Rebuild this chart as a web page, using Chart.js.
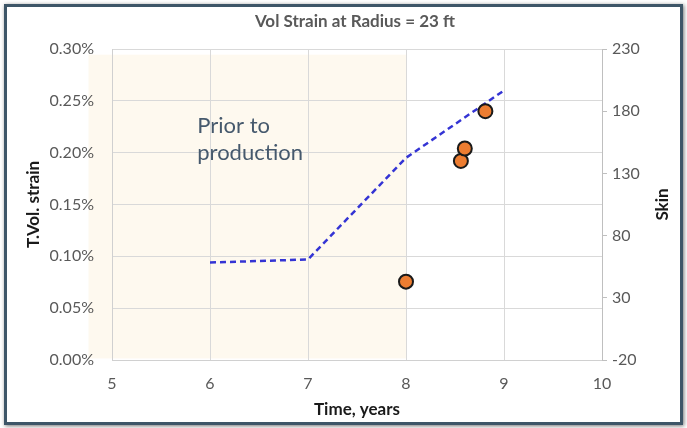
<!DOCTYPE html>
<html>
<head>
<meta charset="utf-8">
<script src="https://cdn.jsdelivr.net/npm/chart.js@4/dist/chart.umd.min.js"></script>
<style>
  body { margin: 0; background: #fff; }
  #frame {
    position: absolute; left: 4px; top: 4px;
    width: 673px; height: 415px;
    border: 3px solid #3e5668;
    box-shadow: 1px 1px 4px rgba(0,0,0,0.55);
    background: #fff;
  }
  canvas { display: block; }
</style>
</head>
<body>
<div id="frame"><canvas id="chart" width="673" height="415"></canvas></div>
<script>
'use strict';
// data
var lineYears = [6, 7, 8, 9];
var lineStrain = [0.094, 0.097, 0.195, 0.26]; // percent
var skinYears = [8.0, 8.56, 8.60, 8.81];
var skinValues = [43, 140, 150, 180];
var xTicks = [5, 6, 7, 8, 9, 10];
var strainTicks = [0, 0.05, 0.10, 0.15, 0.20, 0.25, 0.30];
var skinTicks = [-20, 30, 80, 130, 180, 230];
var shadeYears = [4.76, 8]; // "prior to production" band
var shadeStrain = [0.0015, 0.2945];

var FONT = 'Lato, "Open Sans", sans-serif';
var GRAY = '#595959';

function toPoints(xs, ys) {
  var out = [];
  for (var i = 0; i < xs.length; i++) {
    out.push({x: xs[i], y: ys[i]});
  }
  return out;
}

// band + free text + titles drawn by hand
var decor = {
  id: 'decor',
  beforeDraw: function(chart) {
    var c = chart.ctx;
    var xs = chart.scales.x, ys = chart.scales.y;
    var l = xs.getPixelForValue(shadeYears[0]);
    var r = xs.getPixelForValue(shadeYears[1]);
    var t = ys.getPixelForValue(shadeStrain[1]);
    var b = ys.getPixelForValue(shadeStrain[0]);
    c.save();
    c.fillStyle = '#fef9ef';
    c.fillRect(l, t, r - l, b - t);
    c.restore();
  },
  afterDraw: function(chart) {
    var c = chart.ctx;
    var area = chart.chartArea;
    var xs = chart.scales.x, ys = chart.scales.y;
    c.save();
    c.textAlign = 'center';
    c.textBaseline = 'middle';
    // main title
    c.fillStyle = GRAY;
    c.font = 'bold 17px ' + FONT;
    c.fillText('Vol Strain at Radius = 23 ft', (area.left + area.right) / 2 - 2, 15);
    // x title
    c.fillStyle = '#1a1a1a';
    c.font = 'bold 17px ' + FONT;
    c.fillText('Time, years', (area.left + area.right) / 2, 403);
    var midY = (area.top + area.bottom) / 2;
    // left title
    c.save();
    c.translate(27, midY);
    c.rotate(-Math.PI / 2);
    c.fillText('T.Vol. strain', 0, 0);
    c.restore();
    // right title
    c.save();
    c.translate(656, midY);
    c.rotate(-Math.PI / 2);
    c.fillText('Skin', 0, 0);
    c.restore();
    // annotation
    c.textAlign = 'left';
    c.fillStyle = '#46596d';
    c.font = '22px ' + FONT;
    var ax = xs.getPixelForValue(5.87);
    c.fillText('Prior to', ax, ys.getPixelForValue(0.226));
    c.fillText('production', ax, ys.getPixelForValue(0.2));
    c.restore();
  }
};

var ctx = document.getElementById('chart').getContext('2d');
var chart = new Chart(ctx, {
  type: 'scatter',
  data: {
    datasets: [
      {
        label: 'T.Vol. strain',
        data: toPoints(lineYears, lineStrain),
        yAxisID: 'y',
        showLine: true,
        borderColor: '#3434d4',
        borderWidth: 2.5,
        borderDash: [6, 4],
        pointRadius: 0,
        fill: false,
        order: 2
      },
      {
        label: 'Skin',
        data: toPoints(skinYears, skinValues),
        yAxisID: 'y2',
        showLine: false,
        pointRadius: 7,
        pointBackgroundColor: '#ed7d31',
        pointBorderColor: '#1a1a1a',
        pointBorderWidth: 2,
        order: 1
      }
    ]
  },
  options: {
    responsive: false,
    animation: false,
    layout: { padding: { top: 42, left: 0, right: 0, bottom: 0 } },
    plugins: {
      legend: { display: false },
      title: { display: false },
      tooltip: { enabled: false }
    },
    scales: {
      x: {
        type: 'linear',
        min: 5, max: 10,
        afterBuildTicks: function(s) { s.ticks = xTicks.map(function(v) { return {value: v}; }); },
        afterFit: function(s) { s.height = 62; },
        grid: { color: '#d9d9d9', drawTicks: false },
        border: { color: '#d0d0d0' },
        ticks: { color: GRAY, font: { family: FONT, size: 16 }, padding: 14 }
      },
      y: {
        position: 'left',
        min: 0, max: 0.30,
        afterBuildTicks: function(s) { s.ticks = strainTicks.map(function(v) { return {value: v}; }); },
        afterFit: function(s) { s.width = 105; },
        grid: { color: '#d9d9d9', drawTicks: false },
        border: { color: '#d0d0d0' },
        ticks: {
          color: GRAY, font: { family: FONT, size: 16 }, padding: 18,
          callback: function(v) { return v.toFixed(2) + '%'; }
        }
      },
      y2: {
        position: 'right',
        min: -20, max: 230,
        afterBuildTicks: function(s) { s.ticks = skinTicks.map(function(v) { return {value: v}; }); },
        afterFit: function(s) { s.width = 78; },
        grid: { drawOnChartArea: false, drawTicks: true, tickLength: 5, color: '#bfbfbf' },
        border: { color: '#bfbfbf' },
        ticks: { color: GRAY, font: { family: FONT, size: 16 }, padding: 5 }
      }
    }
  },
  plugins: [decor]
});
</script>
</body>
</html>
